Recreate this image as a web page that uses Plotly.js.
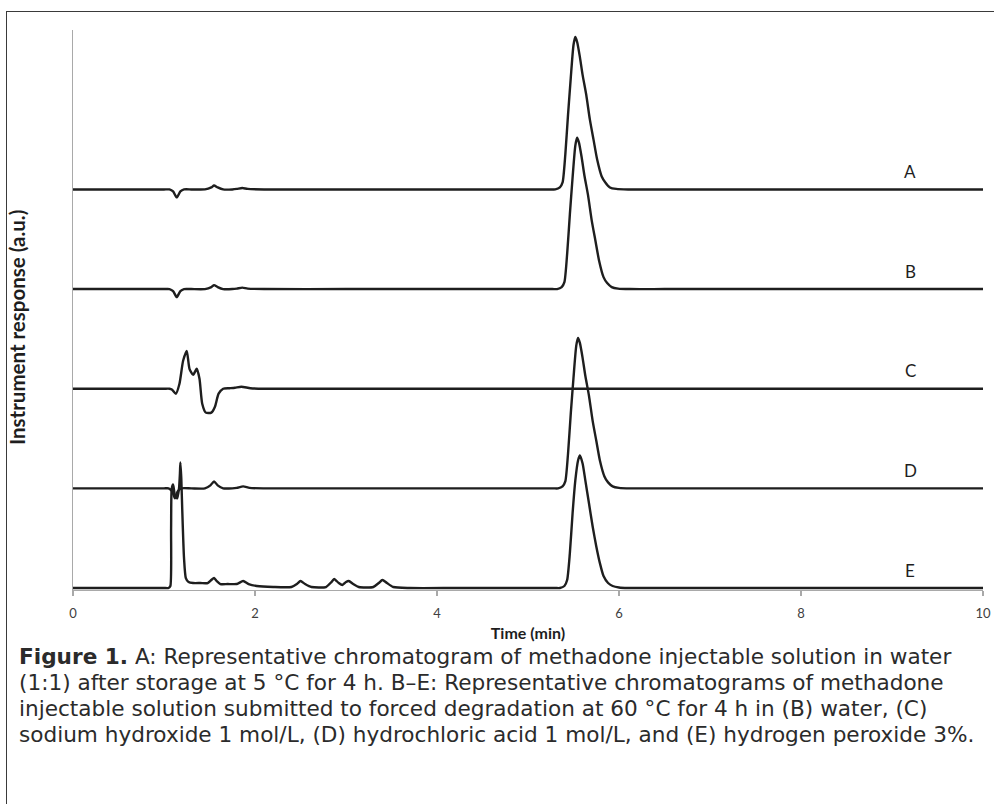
<!DOCTYPE html>
<html>
<head>
<meta charset="utf-8">
<script src="https://cdn.plot.ly/plotly-3.0.1.min.js"></script>
<style>
  html, body { margin: 0; padding: 0; background: #fff; }
  #wrap { position: relative; width: 994px; height: 804px; overflow: hidden; }
  #chart { width: 994px; height: 804px; }
  #frame { position: absolute; left: 6px; top: 11px; right: -4px; bottom: -4px;
           border-left: 1.6px solid #3a3a3a; border-top: 1.6px solid #3a3a3a; pointer-events: none; }
  #caption { position: absolute; left: 19px; top: 644px; margin: 0;
             font-family: 'DejaVu Sans', 'Open Sans', sans-serif; font-size: 21.6px;
             line-height: 26px; color: #2b2b2b; white-space: nowrap; }
</style>
</head>
<body>
<div id="wrap">
  <div id="chart"></div>
  <div id="frame"></div>
  <p id="caption"></p>
</div>
<script>
// Trace labels and vertical display offsets (a.u.)
const labels = ["A", "B", "C", "D", "E"];
const offsets = [4.0, 3.0, 2.0, 1.0, 0.0];

// A: storage at 5 °C
const tA = [0, 0.5, 1.0, 1.06, 1.10, 1.14, 1.18, 1.22, 1.30, 1.45, 1.52, 1.55, 1.59, 1.65, 1.75, 1.80, 1.86, 1.92, 2.10, 3.0, 4.0, 5.0,
            5.25, 5.30, 5.35, 5.38, 5.41, 5.44, 5.47, 5.50, 5.52, 5.54, 5.57, 5.60, 5.64, 5.68, 5.72, 5.76, 5.81, 5.85, 5.90, 5.97, 6.10, 6.5, 8.0, 10];
const vA = [0, 0, 0, 0, -0.02, -0.08, -0.02, 0, 0, 0, 0.02, 0.04, 0.02, 0, 0, 0.005, 0.015, 0.005, 0, 0, 0, 0,
            0, 0, 0.02, 0.07, 0.35, 0.75, 1.12, 1.45, 1.53, 1.48, 1.33, 1.15, 0.95, 0.70, 0.50, 0.30, 0.13, 0.07, 0.02, 0.005, 0, 0, 0, 0];

// B: water
const tB = [0, 0.5, 1.0, 1.06, 1.10, 1.14, 1.18, 1.22, 1.30, 1.45, 1.52, 1.55, 1.59, 1.65, 1.75, 1.80, 1.86, 1.92, 2.10, 3.0, 4.0, 5.0,
            5.27, 5.32, 5.37, 5.40, 5.43, 5.46, 5.49, 5.52, 5.54, 5.56, 5.59, 5.62, 5.66, 5.70, 5.74, 5.78, 5.83, 5.87, 5.92, 5.99, 6.12, 6.5, 8.0, 10];
const vB = [0, 0, 0, 0, -0.02, -0.08, -0.02, 0, 0, 0, 0.02, 0.04, 0.02, 0, 0, 0.005, 0.015, 0.005, 0, 0, 0, 0,
            0, 0, 0.02, 0.07, 0.35, 0.75, 1.12, 1.44, 1.52, 1.47, 1.32, 1.14, 0.94, 0.69, 0.49, 0.29, 0.12, 0.06, 0.02, 0.005, 0, 0, 0, 0];

// C: sodium hydroxide
const tC = [0, 0.5, 1.0, 1.06, 1.09, 1.13, 1.17, 1.21, 1.25, 1.28, 1.32, 1.36, 1.39, 1.42, 1.46, 1.52, 1.56, 1.60, 1.65, 1.72, 1.78, 1.85, 1.95, 2.1, 3.0, 5.0, 7.0, 10];
const vC = [0, 0, 0, 0, -0.01, -0.05, 0.05, 0.28, 0.38, 0.20, 0.14, 0.20, 0.10, -0.15, -0.24, -0.24, -0.18, -0.05, 0.0, 0.005, 0.01, 0.02, 0.005, 0, 0, 0, 0, 0];

// D: hydrochloric acid
const tD = [0, 0.5, 1.0, 1.05, 1.09, 1.12, 1.15, 1.19, 1.30, 1.45, 1.51, 1.55, 1.59, 1.65, 1.75, 1.80, 1.87, 1.94, 2.10, 3.0, 4.0, 5.0,
            5.28, 5.33, 5.38, 5.41, 5.44, 5.47, 5.50, 5.53, 5.55, 5.57, 5.60, 5.63, 5.67, 5.71, 5.75, 5.79, 5.84, 5.88, 5.93, 6.00, 6.13, 6.5, 8.0, 10];
const vD = [0, 0, 0, 0, -0.03, -0.10, -0.03, 0, 0, 0, 0.03, 0.07, 0.03, 0, 0, 0.005, 0.02, 0.005, 0, 0, 0, 0,
            0, 0, 0.02, 0.07, 0.35, 0.75, 1.11, 1.43, 1.51, 1.46, 1.31, 1.13, 0.93, 0.68, 0.48, 0.28, 0.12, 0.06, 0.02, 0.005, 0, 0, 0, 0];

// E: hydrogen peroxide
const tE = [0, 0.5, 0.9, 1.0, 1.05, 1.07, 1.078, 1.085, 1.10, 1.12, 1.145, 1.165, 1.175, 1.18, 1.19, 1.20, 1.22, 1.24, 1.27, 1.32, 1.40, 1.48, 1.52, 1.55, 1.58, 1.62, 1.70, 1.80, 1.87, 1.93, 2.02,
            2.20, 2.40, 2.46, 2.50, 2.55, 2.62, 2.78, 2.84, 2.87, 2.92, 2.96, 3.00, 3.03, 3.08, 3.14, 3.30, 3.36, 3.40, 3.45, 3.52, 3.70, 4.2, 4.8,
            5.30, 5.35, 5.40, 5.43, 5.46, 5.49, 5.52, 5.55, 5.57, 5.60, 5.63, 5.67, 5.71, 5.75, 5.79, 5.83, 5.88, 5.93, 6.00, 6.10, 6.5, 8.0, 10];
const vE = [0, 0, 0, 0, 0, 0.02, 0.60, 1.00, 1.04, 0.93, 0.90, 1.00, 1.15, 1.26, 1.10, 0.80, 0.30, 0.10, 0.06, 0.05, 0.05, 0.05, 0.08, 0.10, 0.07, 0.04, 0.04, 0.04, 0.07, 0.04, 0.02,
            0.01, 0.01, 0.04, 0.07, 0.04, 0.01, 0.01, 0.06, 0.09, 0.05, 0.03, 0.06, 0.07, 0.04, 0.01, 0.01, 0.05, 0.08, 0.05, 0.01, 0.0, 0.0, 0.0,
            0, 0, 0.02, 0.08, 0.35, 0.75, 1.08, 1.28, 1.33, 1.25, 1.08, 0.85, 0.62, 0.42, 0.25, 0.12, 0.05, 0.02, 0.005, 0, 0, 0, 0];

const times = [tA, tB, tC, tD, tE];
const values = [vA, vB, vC, vD, vE];

// Axis ticks
const xTicks = [0, 2, 4, 6, 8, 10];
const xTickText = ["0", "2", "4", "6", "8", "10"];
const labelTime = 9.2;
const labelLift = 0.18;

// Caption lines
const captionLines = [
  "<b>Figure 1.</b> A: Representative chromatogram of methadone injectable solution in water",
  "(1:1) after storage at 5 °C for 4 h. B–E: Representative chromatograms of methadone",
  "injectable solution submitted to forced degradation at 60 °C for 4 h in (B) water, (C)",
  "sodium hydroxide 1 mol/L, (D) hydrochloric acid 1 mol/L, and (E) hydrogen peroxide 3%."
];
document.getElementById("caption").innerHTML = captionLines.join("<br>");

const lineColor = "#1e1e1e";
const traces = times.map((t, i) => ({
  x: t,
  y: values[i].map(v => v + offsets[i]),
  type: "scatter",
  mode: "lines",
  line: { color: lineColor, width: 2.4, shape: "spline", smoothing: 0.6 },
  hoverinfo: "skip",
  showlegend: false
}));

const chartFont = "Lato, 'Open Sans', sans-serif";
const annotations = labels.map((lab, i) => ({
  x: labelTime, y: offsets[i] + labelLift, xref: "x", yref: "y",
  text: lab, showarrow: false, xanchor: "center", yanchor: "middle",
  font: { family: chartFont, size: 17, color: "#1e1e1e" }
}));

annotations.push({
  xref: "paper", yref: "paper", x: -0.0615, y: 0.468,
  text: "<b>Instrument response (a.u.)</b>", textangle: -90, showarrow: false,
  xanchor: "center", yanchor: "middle",
  font: { family: chartFont, size: 20.5, color: "#1e1e1e" }
});

const layout = {
  width: 994, height: 804,
  margin: { l: 73, r: 11, t: 30, b: 214 },
  paper_bgcolor: "#ffffff", plot_bgcolor: "#ffffff",
  xaxis: {
    range: [0, 10], tickvals: xTicks, ticktext: xTickText,
    showgrid: false, zeroline: false, showline: true, linecolor: "#a9a9a9", linewidth: 1.2,
    ticks: "outside", ticklen: 5, tickcolor: "#a9a9a9", tickwidth: 1.2,
    ticklabelstandoff: 6,
    tickfont: { family: chartFont, size: 13, color: "#404040" },
    title: { text: "<b>Time (min)</b>", standoff: 8,
             font: { family: chartFont, size: 16, color: "#1e1e1e" } },
    fixedrange: true
  },
  yaxis: {
    range: [-0.02, 5.6], showgrid: false, zeroline: false, showline: true,
    linecolor: "#a9a9a9", linewidth: 1.2, showticklabels: false, ticks: "",
    fixedrange: true
  },
  annotations: annotations
};

Plotly.newPlot("chart", traces, layout, { displayModeBar: false, staticPlot: true });
</script>
</body>
</html>
